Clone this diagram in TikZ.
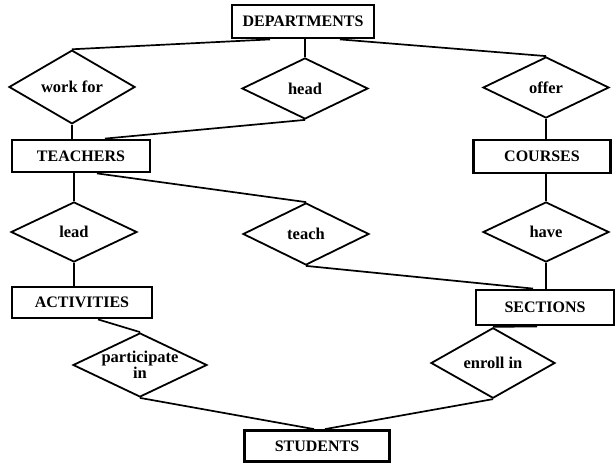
\documentclass[tikz,border=0pt]{standalone}
\usepackage{fontspec}
\setmainfont{Liberation Serif}
\usepackage{tikz}
\usetikzlibrary{shapes.geometric}

\begin{document}
\begin{tikzpicture}[x=1pt,y=-1pt,line width=1.7pt,
  entity node/.style={rectangle,draw,line width=2.8pt,inner sep=0pt,
    font=\bfseries\fontsize{16}{17}\selectfont},
  rel node/.style={diamond,draw,line width=1.8pt,inner sep=0pt,
    minimum width=126pt,minimum height=61pt,align=center,
    font=\bfseries\fontsize{16.5}{16}\selectfont},
  rel text/.style={align=center,inner sep=0pt,
    font=\bfseries\fontsize{16.5}{14}\selectfont}]
  \useasboundingbox (0,0) rectangle (616,463);

  % entities
  \node[entity node,minimum width=142pt,minimum height=33pt] (dep) at (303,21.5) {DEPARTMENTS};
  \node[entity node,minimum width=138pt,minimum height=32pt] (teachers) at (81,156) {TEACHERS};
  \node[entity node,minimum width=137pt,minimum height=33pt] (courses) at (542,156.5) {COURSES};
  \node[entity node,minimum width=140pt,minimum height=31pt] (activities) at (82,302.5) {ACTIVITIES};
  \node[entity node,minimum width=138pt,minimum height=35pt] (sections) at (545,307.5) {SECTIONS};
  \node[entity node,minimum width=145pt,minimum height=31pt] (students) at (317,446) {STUDENTS};

  % relationships
  \node[rel node] (work) at (72,87) {work for};
  \node[rel node] (head) at (305,88.5) {head};
  \node[rel node] (offer) at (546,87.5) {offer};
  \node[rel node,minimum height=60pt] (lead) at (74,232) {lead};
  \node[rel node,minimum height=62pt] (teach) at (306,234) {teach};
  \node[rel node,minimum height=60pt] (have) at (546,232) {have};
  \node[rel node,minimum width=134pt,minimum height=64pt] (part) at (140,365) {};
  \node[rel text] (parttext) at (part.center) {participate\\in};
  \node[rel node,minimum width=124pt,minimum height=60pt] (enroll) at (493,363) {enroll in};

  \draw ([xshift=-33pt]dep.south) -- (work.north);
  \draw (head.north |- dep.south) -- (head.north);
  \draw ([xshift=37pt]dep.south) -- (offer.north);
  \draw (work.south) -- (work.south |- teachers.north);
  \draw (head.south) -- ([xshift=24pt]teachers.north);
  \draw (offer.south) -- (offer.south |- courses.north);
  \draw (lead.north |- teachers.south) -- (lead.north);
  \draw ([xshift=16pt]teachers.south) -- (teach.north);
  \draw (have.north |- courses.south) -- (have.north);
  \draw (lead.south) -- (lead.south |- activities.north);
  \draw (teach.south) -- ([xshift=-12pt]sections.north);
  \draw (have.south) -- (have.south |- sections.north);
  \draw ([xshift=16pt]activities.south) -- (part.north);
  \draw ([xshift=-8pt]sections.south) -- (enroll.north);
  \draw (part.south) -- ([xshift=-3pt]students.north);
  \draw (enroll.south) -- ([xshift=8pt]students.north);
\end{tikzpicture}
\end{document}
